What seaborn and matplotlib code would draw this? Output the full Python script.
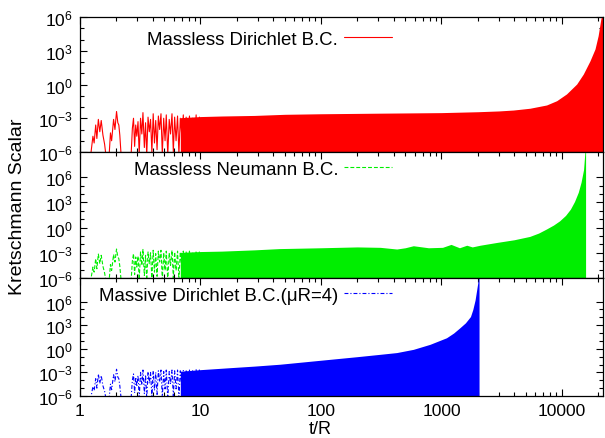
import numpy as np
import pandas as pd
import matplotlib
matplotlib.use("Agg")
import matplotlib.pyplot as plt
import seaborn as sns
from matplotlib.ticker import FixedLocator, FixedFormatter, NullFormatter

# ---------------- data (log10 of Kretschmann scalar) ----------------
# sparse early oscillations: vertex times shared by the three runs
T_EARLY = [1.22, 1.28, 1.31, 1.35, 1.38, 1.42, 1.46, 1.50, 1.55, 1.60, 1.65,
           1.74, 1.79, 1.83, 1.90, 1.95, 2.01, 2.06, 2.10, 2.14, 2.20,
           2.65, 2.72, 2.78, 2.84, 2.90, 2.96, 3.03, 3.10, 3.18, 3.26,
           3.33, 3.42, 3.50, 3.58, 3.67, 3.76, 3.85, 3.95, 4.05, 4.15,
           4.25, 4.36, 4.47, 4.58, 4.70, 4.82, 4.95, 5.08, 5.20, 5.35,
           5.50, 5.64, 5.80, 5.95, 6.10, 6.27, 6.45, 6.62, 6.80, 7.00,
           7.20, 7.40, 7.60, 7.85, 8.10, 8.35, 8.60, 8.90, 9.20, 9.50,
           9.80, 10.1]

RED_EARLY = [-6.5, -4.6, -5.2, -3.6, -4.8, -3.1, -4.2, -3.2, -4.5, -5.3, -6.5,
             -6.5, -4.3, -5.0, -3.1, -4.0, -2.4, -3.4, -3.6, -4.5, -6.5,
             -6.5, -3.9, -3.0, -5.5, -3.6, -4.6, -3.3, -6.2, -3.0, -4.4,
             -2.5, -5.6, -3.4, -6.3, -2.9, -4.2, -3.1, -6.0, -2.6, -5.2,
             -3.2, -5.8, -2.8, -4.0, -2.6, -6.2, -3.0, -5.0, -2.7, -6.3,
             -3.1, -4.4, -2.6, -6.0, -2.9, -5.0, -2.8, -6.2, -3.0, -4.6,
             -2.7, -6.3, -2.9, -5.3, -2.8, -6.2, -3.0, -5.5, -2.7, -6.3,
             -2.9, -6.0]

GREEN_EARLY = [-6.5, -4.7, -5.3, -3.7, -4.9, -3.15, -4.3, -3.3, -4.6, -5.4, -6.5,
               -6.5, -4.4, -5.1, -3.2, -4.1, -2.55, -3.5, -3.7, -4.6, -6.5,
               -6.5, -4.0, -3.1, -5.6, -3.5, -4.7, -3.4, -6.2, -2.9, -4.5,
               -2.6, -5.7, -3.3, -6.3, -2.9, -4.3, -3.0, -6.0, -2.7, -5.3,
               -3.1, -5.8, -2.8, -4.1, -2.7, -6.2, -3.0, -5.1, -2.8, -6.3,
               -3.0, -4.5, -2.7, -6.0, -2.9, -5.1, -2.8, -6.2, -2.9, -4.7,
               -2.8, -6.3, -2.9, -5.4, -2.8, -6.2, -2.9, -5.6, -2.8, -6.3,
               -2.8, -6.0]

BLUE_EARLY = [-6.5, -4.8, -5.3, -3.8, -5.0, -3.2, -4.4, -3.4, -4.7, -5.4, -6.5,
              -6.5, -4.5, -5.2, -3.3, -4.2, -2.6, -3.6, -3.8, -4.7, -6.5,
              -6.5, -4.0, -3.2, -5.6, -3.6, -4.8, -3.4, -6.2, -3.0, -4.6,
              -2.7, -5.7, -3.3, -6.3, -2.9, -4.4, -3.0, -6.0, -2.8, -5.3,
              -3.0, -5.8, -2.8, -4.2, -2.7, -6.2, -2.9, -5.1, -2.7, -6.3,
              -2.9, -4.5, -2.7, -6.0, -2.8, -5.1, -2.7, -6.2, -2.8, -4.7,
              -2.7, -6.3, -2.7, -5.4, -2.7, -6.2, -2.7, -5.6, -2.6, -6.3,
              -2.6, -6.0]

# upper envelopes of the dense oscillation region
RED_ENV_T = [6.8, 10, 15, 28, 50, 100, 300, 1000, 2000, 3000, 3950, 5420, 7450,
             9040, 10900, 13240, 15030, 17070, 18800, 19960, 21000, 21700, 22000]
RED_ENV = [-2.95, -2.85, -2.8, -2.75, -2.65, -2.6, -2.55, -2.5, -2.42, -2.35,
           -2.27, -2.11, -1.82, -1.44, -0.84, 0.04, 0.93, 2.1, 3.16, 4.34, 5.8,
           6.4, 6.6]

GREEN_ENV_T = [6.8, 10, 15, 28, 45, 100, 200, 310, 425, 500, 584, 780, 1020,
               1200, 1410, 1620, 1800, 2090, 2900, 4000, 5400, 6400, 7400, 8500,
               9550, 10700, 11750, 12700, 13650, 14400, 15100, 15500, 15700]
GREEN_ENV = [-2.95, -2.85, -2.8, -2.65, -2.5, -2.4, -2.3, -2.35, -2.55, -2.4,
             -2.16, -2.4, -2.35, -2.0, -2.4, -2.1, -2.3, -2.1, -1.76, -1.45,
             -1.05, -0.65, -0.18, 0.3, 0.8, 1.45, 2.2, 3.1, 4.2, 5.4, 6.9, 9.0,
             9.3]

BLUE_ENV_T = [6.8, 10, 17.6, 28, 45.7, 100, 200, 310, 425, 584, 803, 1100, 1260,
              1420, 1580, 1740, 1820, 1900, 1960, 2030, 2050]
BLUE_ENV = [-2.85, -2.65, -2.4, -2.2, -1.96, -1.45, -1.0, -0.7, -0.48, -0.07,
            0.57, 1.4, 2.0, 2.67, 3.3, 4.1, 5.0, 6.2, 7.5, 9.0, 9.3]

LABELS = ["Massless Dirichlet B.C.", "Massless Neumann B.C.",
          "Massive Dirichlet B.C.(\u03bcR=4)"]
COLORS = ["#ff0000", "#00ee00", "#0000ff"]
YTOP = [1e6, 1e9, 1e9]
X_TICKS = [1, 10, 100, 1000, 10000]
X_TICK_LABELS = ["1", "10", "100", "1000", "10000"]
Y_TICKS = [1e-6, 1e-3, 1e0, 1e3, 1e6]
Y_TICK_LABELS = ["$10^{-6}$", "$10^{-3}$", "$10^{0}$", "$10^{3}$", "$10^{6}$"]

# ---------------- style ----------------
sns.set_theme(style="ticks")
plt.rcParams["font.family"] = ["Liberation Sans", "DejaVu Sans"]
plt.rcParams["mathtext.default"] = "regular"
plt.rcParams["font.size"] = 12
for k in ["text.color", "axes.labelcolor", "xtick.color", "ytick.color",
          "axes.edgecolor"]:
    plt.rcParams[k] = "black"

W, H = 605, 439
fig = plt.figure(figsize=(W / 100, H / 100), dpi=100)
left = 80 / W
width = (603 - 80) / W
rows = [(18, 153), (153, 279), (279, 397)]
axes = [fig.add_axes([left, 1 - b / H, width, (b - t) / H]) for t, b in rows]

early = [RED_EARLY, GREEN_EARLY, BLUE_EARLY]
env_t = [RED_ENV_T, GREEN_ENV_T, BLUE_ENV_T]
env = [RED_ENV, GREEN_ENV, BLUE_ENV]
dashes = [(None, None), (3.5, 1.8), (3.5, 1.8, 1, 1.8)]
legend_y_px = [40, 170, 296]

minor_x = [m * 10 ** d for d in range(0, 5) for m in range(2, 10) if m * 10 ** d < 22000]
minor_y = [1e-5, 1e-4, 1e-2, 1e-1, 1e1, 1e2, 1e4, 1e5]

for i, ax in enumerate(axes):
    df = pd.DataFrame({"t": T_EARLY, "K": 10.0 ** np.array(early[i])})
    sns.lineplot(data=df, x="t", y="K", ax=ax, color=COLORS[i], lw=0.8,
                 sort=False, estimator=None, label=LABELS[i], legend=False)
    ln = ax.get_lines()[0]
    if dashes[i][0] is not None:
        ln.set_dashes(dashes[i])
    ax.fill_between(env_t[i], 1e-8, 10.0 ** np.array(env[i]), color=COLORS[i],
                    lw=0, zorder=2)
    ax.set_xscale("log")
    ax.set_yscale("log")
    ax.set_xlim(1, 21900)
    ax.set_ylim(1e-6, YTOP[i])
    ax.set_xlabel("")
    ax.set_ylabel("")
    ax.xaxis.set_major_locator(FixedLocator(X_TICKS))
    ax.xaxis.set_minor_locator(FixedLocator(minor_x))
    ax.xaxis.set_minor_formatter(NullFormatter())
    if i == 2:
        ax.xaxis.set_major_formatter(FixedFormatter(X_TICK_LABELS))
    else:
        ax.xaxis.set_major_formatter(NullFormatter())
    ax.yaxis.set_major_locator(FixedLocator(Y_TICKS))
    ax.yaxis.set_major_formatter(FixedFormatter(Y_TICK_LABELS))
    ax.yaxis.set_minor_locator(FixedLocator(minor_y))
    ax.yaxis.set_minor_formatter(NullFormatter())
    ax.tick_params(which="both", direction="in", top=True, right=True,
                   colors="black", labelsize=12.5, width=0.8)
    ax.tick_params(which="major", length=5)
    ax.tick_params(which="minor", length=2.7)
    ax.tick_params(axis="y", pad=5)
    ax.tick_params(axis="x", pad=5)
    for s in ax.spines.values():
        s.set_linewidth(0.9)
        s.set_color("black")
        s.set_visible(True)
        s.set_zorder(5)
    # key: text then sample line
    h_px = (rows[i][1] - rows[i][0])
    ya = (rows[i][1] - legend_y_px[i]) / h_px
    xa = (392 - 80) / (603 - 80)
    ax.legend(handles=[ln], labels=[LABELS[i]], loc="center right",
              bbox_to_anchor=(xa, ya), frameon=False, markerfirst=False,
              handlelength=2.6, handletextpad=0.3, borderpad=0,
              borderaxespad=0, fontsize=13.4)

fig.text(18 / W, 1 - 207 / H, "Kretschmann Scalar", rotation=90,
         ha="center", va="center", fontsize=14)
fig.text(320 / W, 1 - 430 / H, "t/R", ha="center", va="center", fontsize=13)

fig.savefig("out.png", dpi=100)
